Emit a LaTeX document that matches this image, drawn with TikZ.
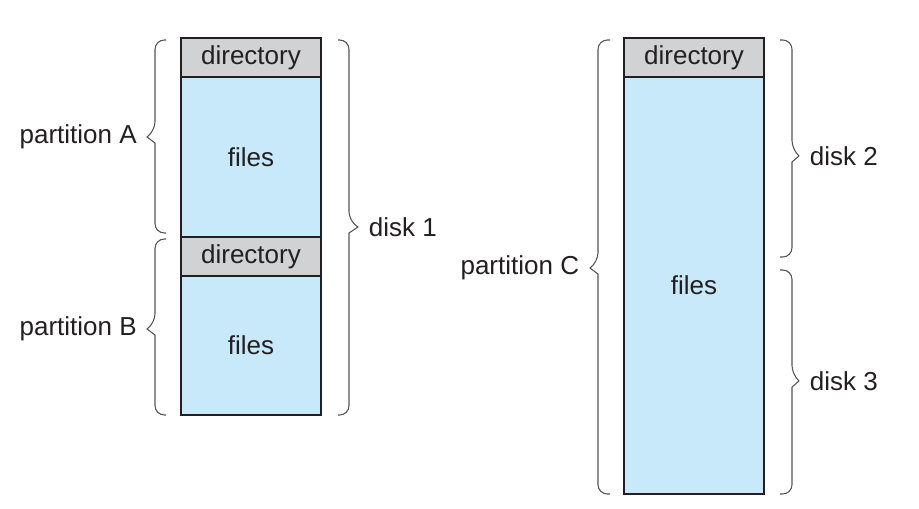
\documentclass[tikz,border=0pt]{standalone}
\usepackage{fontspec}
\setmainfont{Liberation Sans}
\usetikzlibrary{positioning}
\definecolor{dirgray}{RGB}{209,210,212}
\definecolor{fileblue}{RGB}{199,233,250}
\definecolor{inkgray}{RGB}{35,31,32}
\definecolor{bracegray}{RGB}{85,85,85}
\tikzset{
  block/.style={draw=inkgray, line width=0.8pt, minimum width=105pt, inner sep=0pt, outer sep=0pt, text=inkgray},
  dirblock/.style={block, fill=dirgray, minimum height=29.25pt},
  fileblock/.style={block, fill=fileblue},
  lbl/.style={inner sep=0pt, text=inkgray},
  brace/.style={draw=bracegray, line width=0.8pt},
}
\begin{document}
\begin{tikzpicture}[x=0.75pt, y=-0.75pt, node distance=0pt,
  every node/.style={font=\fontsize{19.5}{23}\selectfont}]
\useasboundingbox (0,0) rectangle (919,508);
% disk 1: two partitions
\node[dirblock, anchor=north west] (dirA) at (181,38) {directory};
\node[fileblock, minimum height=120pt, below=of dirA] (filesA) {files};
\node[dirblock, below=of filesA] (dirB) {directory};
\node[fileblock, minimum height=104.25pt, below=of dirB] (filesB) {files};
% disks 2 and 3: one partition
\node[dirblock, anchor=north west] (dirC) at (624,38) {directory};
\node[fileblock, minimum height=312.75pt, below=of dirC] (filesC) {files};
% braces
\coordinate (tipA) at (147,137);
\coordinate (tipB) at (147,329);
\coordinate (tipD1) at (358,227);
\coordinate (tipC) at (590,268);
\coordinate (tipD2) at (799,156);
\coordinate (tipD3) at (799,381);
\draw[brace] (166,40) [rounded corners=7pt] -- (155,40) -- (155,131) [sharp corners] -- (tipA) -- (155,143) [rounded corners=7pt] -- (155,233) -- (166,233);
\draw[brace] (166,239) [rounded corners=7pt] -- (155,239) -- (155,323) [sharp corners] -- (tipB) -- (155,335) [rounded corners=7pt] -- (155,415) -- (166,415);
\draw[brace] (338,40) [rounded corners=7pt] -- (349,40) -- (349,221) [sharp corners] -- (tipD1) -- (349,233) [rounded corners=7pt] -- (349,415) -- (338,415);
\draw[brace] (610,40) [rounded corners=7pt] -- (598,40) -- (598,262) [sharp corners] -- (tipC) -- (598,274) [rounded corners=7pt] -- (598,494) -- (610,494);
\draw[brace] (780,40) [rounded corners=7pt] -- (792,40) -- (792,150) [sharp corners] -- (tipD2) -- (792,162) [rounded corners=7pt] -- (792,257) -- (780,257);
\draw[brace] (780,270) [rounded corners=7pt] -- (792,270) -- (792,375) [sharp corners] -- (tipD3) -- (792,387) [rounded corners=7pt] -- (792,494) -- (780,494);
% labels
\node[lbl, left=7.5pt of tipA] (lblA) {partition A};
\node[lbl, left=7.5pt of tipB] (lblB) {partition B};
\node[lbl, right=8pt of tipD1] (lblD1) {disk 1};
\node[lbl, left=8pt of tipC] (lblC) {partition C};
\node[lbl, right=8pt of tipD2] (lblD2) {disk 2};
\node[lbl, right=8pt of tipD3] (lblD3) {disk 3};
\end{tikzpicture}
\end{document}
